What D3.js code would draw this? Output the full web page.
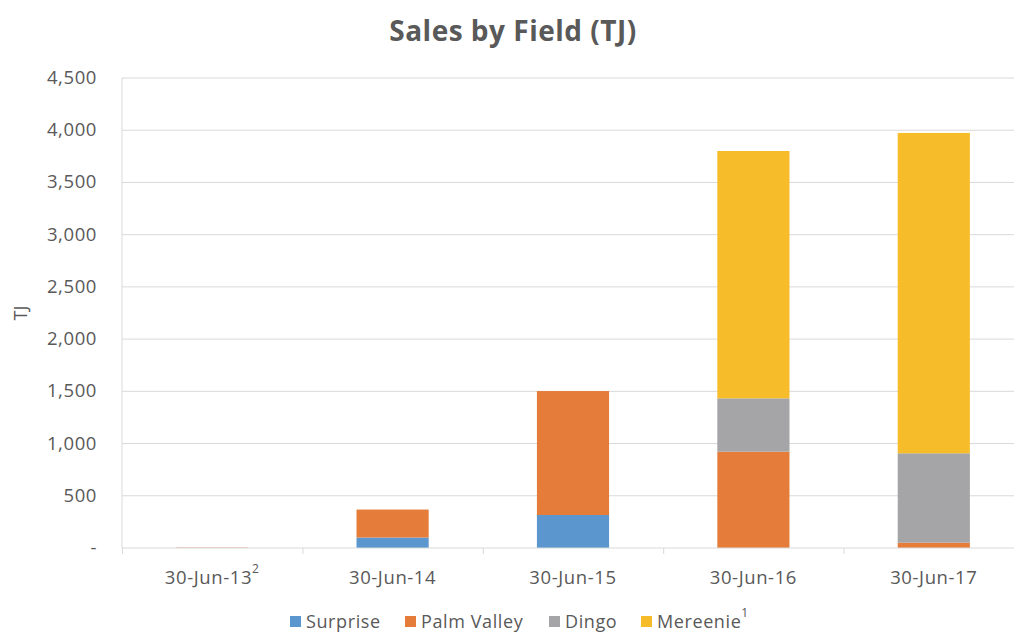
<!DOCTYPE html>
<html>
<head>
<meta charset="utf-8">
<script src="https://cdn.jsdelivr.net/npm/d3@7"></script>
<style>
  body { margin: 0; background: #fff; }
  svg text { font-family: "Open Sans", Lato, sans-serif; fill: #595959; }
</style>
</head>
<body>
<div id="chart"></div>
<script>
const categories = ["30-Jun-13", "30-Jun-14", "30-Jun-15", "30-Jun-16", "30-Jun-17"];
const catNotes = ["2", "", "", "", ""];
const surprise = [0, 100, 316, 0, 0];
const palmValley = [4, 268, 1187, 922, 51];
const dingo = [0, 0, 0, 511, 856];
const mereenie = [0, 0, 0, 2368, 3067];
const seriesNames = ["Surprise", "Palm Valley", "Dingo", "Mereenie"];
const seriesNotes = ["", "", "", "1"];
const colors = ["#5b96cf", "#e67c3a", "#a5a5a7", "#f6bc2a"];
const yTicks = [0, 500, 1000, 1500, 2000, 2500, 3000, 3500, 4000, 4500];

const svgWidth = 1014;
const svgHeight = 634;
const margin = { top: 78, right: -10, bottom: 86, left: 122 };
const width = svgWidth - margin.left - margin.right;
const height = svgHeight - margin.top - margin.bottom;

const table = categories.map((c, i) => ({
  cat: c,
  "Surprise": surprise[i],
  "Palm Valley": palmValley[i],
  "Dingo": dingo[i],
  "Mereenie": mereenie[i]
}));
const stacked = d3.stack().keys(seriesNames)(table);

const root = d3.select("#chart")
    .append("svg")
    .attr("width", svgWidth)
    .attr("height", svgHeight);

root.append("text")
    .attr("x", 513)
    .attr("y", 41)
    .attr("text-anchor", "middle")
    .style("font-size", "28px")
    .style("letter-spacing", "0.5px")
    .style("font-weight", "bold")
    .text("Sales by Field (TJ)");

const svg = root.append("g")
    .attr("transform", "translate(" + margin.left + "," + margin.top + ")");

const xScale = d3.scaleBand()
    .domain(categories)
    .range([0, width])
    .paddingInner(0.6)
    .paddingOuter(0.3);

const yScale = d3.scaleLinear()
    .domain([0, 4500])
    .range([height, 0]);

// gridlines
svg.append("g")
    .selectAll("line")
    .data(yTicks.slice(1))
    .enter()
    .append("line")
    .attr("x1", 0)
    .attr("x2", width)
    .attr("y1", d => yScale(d))
    .attr("y2", d => yScale(d))
    .attr("stroke", "#d9d9d9")
    .attr("stroke-width", 1);

// y axis line
svg.append("line")
    .attr("x1", 0).attr("x2", 0)
    .attr("y1", 0).attr("y2", height)
    .attr("stroke", "#d9d9d9");

// bars
svg.selectAll(".series")
    .data(stacked)
    .enter()
    .append("g")
    .attr("fill", (d, i) => colors[i])
    .selectAll("rect")
    .data(d => d)
    .enter()
    .append("rect")
    .attr("x", d => xScale(d.data.cat))
    .attr("y", d => yScale(d[1]))
    .attr("width", xScale.bandwidth())
    .attr("height", d => yScale(d[0]) - yScale(d[1]));

// x axis
const step = xScale.step();
const xAxis = svg.append("g")
    .attr("transform", "translate(0," + height + ")");
xAxis.append("line")
    .attr("x1", 0).attr("x2", width)
    .attr("stroke", "#d9d9d9");
xAxis.selectAll(".tick")
    .data(d3.range(categories.length + 1))
    .enter()
    .append("line")
    .attr("x1", i => i * step + 0.5)
    .attr("x2", i => i * step + 0.5)
    .attr("y1", 0)
    .attr("y2", 6)
    .attr("stroke", "#d9d9d9");

const xLabels = xAxis.selectAll(".xl")
    .data(categories)
    .enter()
    .append("text")
    .attr("x", d => xScale(d) + xScale.bandwidth() / 2)
    .attr("y", 36)
    .attr("text-anchor", "middle")
    .style("font-size", "18.5px")
    .style("letter-spacing", "0.6px");
xLabels.append("tspan").text(d => d);
xLabels.append("tspan")
    .attr("dy", -11)
    .style("font-size", "12px")
    .text((d, i) => catNotes[i]);

// y labels
svg.append("g")
    .selectAll("text")
    .data(yTicks)
    .enter()
    .append("text")
    .attr("x", -25)
    .attr("y", d => yScale(d) + 6)
    .attr("text-anchor", "end")
    .style("font-size", "18.5px")
    .style("letter-spacing", "0.6px")
    .text(d => d === 0 ? "-" : d3.format(",")(d));

root.append("text")
    .attr("transform", "translate(27,313) rotate(-90)")
    .attr("text-anchor", "middle")
    .style("font-size", "18px")
    .text("TJ");

// legend
const legendX = [290, 405, 549, 641];
const legend = root.append("g")
    .selectAll("g")
    .data(seriesNames)
    .enter()
    .append("g")
    .attr("transform", (d, i) => "translate(" + legendX[i] + ",616)");
legend.append("rect")
    .attr("width", 11)
    .attr("height", 11)
    .attr("fill", (d, i) => colors[i]);
const lt = legend.append("text")
    .attr("x", 16)
    .attr("y", 12)
    .style("font-size", "18px")
    .style("letter-spacing", "0.6px");
lt.append("tspan").text(d => d);
lt.append("tspan")
    .attr("dy", -11)
    .style("font-size", "12px")
    .text((d, i) => seriesNotes[i]);
</script>
</body>
</html>
